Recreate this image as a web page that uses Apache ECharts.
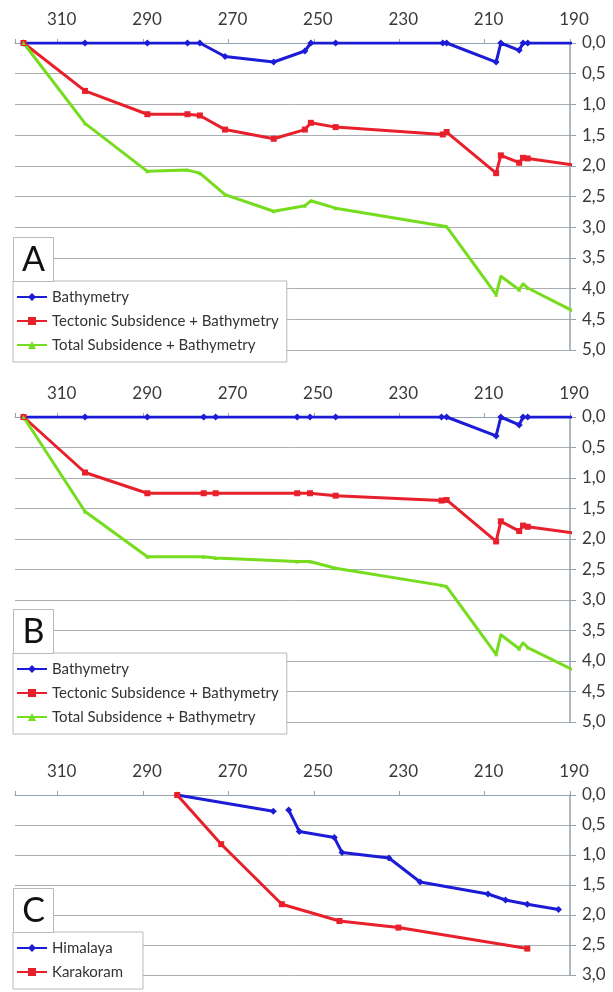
<!DOCTYPE html>
<html>
<head>
<meta charset="utf-8">
<script src="https://cdn.jsdelivr.net/npm/echarts@6/dist/echarts.min.js"></script>
<style>
html,body{margin:0;padding:0;background:#fff;}
#chart{width:613px;height:992px;}
</style>
</head>
<body>
<div id="chart"></div>
<script>
// ---------- DATA ----------
const xTicks = [190, 210, 230, 250, 270, 290, 310];

// Panel A
const agesA = [318, 303.6, 289, 279.6, 276.7, 270.8, 259.4, 252.1, 250.7, 244.9, 219.8, 218.9, 207.3, 206.2, 201.9, 201.0, 199.9, 188];
const bathyA = [0, 0, 0, 0, 0, 0.22, 0.31, 0.13, 0, 0, 0, 0, 0.31, 0, 0.12, 0, 0, 0];
const tectA  = [0, 0.78, 1.16, 1.16, 1.18, 1.41, 1.56, 1.41, 1.30, 1.37, 1.49, 1.45, 2.12, 1.83, 1.95, 1.87, 1.88, 2.00];
const totalA = [0, 1.31, 2.09, 2.07, 2.12, 2.47, 2.74, 2.65, 2.57, 2.69, 2.98, 2.99, 4.10, 3.80, 4.02, 3.92, 3.99, 4.41];

// Panel B
const agesB = [318, 303.6, 289, 275.8, 273, 253.9, 250.9, 244.9, 220.1, 218.9, 207.3, 206.2, 201.9, 201.0, 199.9, 188];
const bathyB = [0, 0, 0, 0, 0, 0, 0, 0, 0, 0, 0.31, 0, 0.13, 0, 0, 0];
const tectB  = [0, 0.91, 1.25, 1.25, 1.25, 1.25, 1.25, 1.29, 1.37, 1.36, 2.04, 1.71, 1.87, 1.78, 1.80, 1.91];
const totalB = [0, 1.55, 2.29, 2.29, 2.31, 2.37, 2.37, 2.48, 2.76, 2.78, 3.89, 3.57, 3.80, 3.70, 3.78, 4.19];

// Panel C
const agesHim = [282, 259.5, 257.7, 255.9, 253.4, 245.2, 243.4, 232.4, 225.1, 209.2, 205.1, 200.0, 192.7];
const himalaya = [0, 0.27, null, 0.25, 0.61, 0.71, 0.96, 1.05, 1.45, 1.65, 1.75, 1.82, 1.91];
const agesKar = [282, 271.7, 257.5, 244.0, 230.2, 200.0];
const karakoram = [0, 0.82, 1.82, 2.10, 2.21, 2.56];

const namesAB = ['Bathymetry', 'Tectonic Subsidence + Bathymetry', 'Total Subsidence + Bathymetry'];
const namesC = ['Himalaya', 'Karakoram'];

// ---------- STYLE ----------
const BLUE = '#1c1cd6', RED = '#e8202c', GREEN = '#76dc1e';
const AXIS = '#93a2ae', GRID = '#a9aeb3', TXT = '#3a3a3a';
const FONT = 'Lato';

// last point of A/B series lies just beyond the axis frame: drawn without a marker
function pairs(xs, ys, openEnd) {
  return xs.map((x, i) => {
    const v = [x, ys[i] === null ? '-' : ys[i]];
    if (openEnd && i === xs.length - 1) return {value: v, symbol: 'none'};
    return v;
  });
}

const panels = [
  {top: 43, height: 307, ymax: 5},
  {top: 417, height: 305, ymax: 5},
  {top: 795, height: 180, ymax: 3}
];

const grid = panels.map(p => ({left: 15, width: 555, top: p.top, height: p.height}));
const xAxis = panels.map((p, i) => ({
  type: 'value', gridIndex: i, position: 'top', inverse: true,
  min: 190, max: 320, interval: 20,
  axisLine: {show: true, onZero: false, lineStyle: {color: AXIS, width: 1}},
  axisTick: {show: true, length: 4, lineStyle: {color: AXIS}},
  axisLabel: {
    show: true, margin: 15, fontSize: 17, color: TXT, fontFamily: FONT,
    padding: [0, 0, 0, 8],
    formatter: v => (xTicks.indexOf(v) >= 0 ? String(v) : '')
  },
  splitLine: {show: false}
}));
const yAxis = panels.map((p, i) => ({
  type: 'value', gridIndex: i, position: 'right', inverse: true,
  min: 0, max: p.ymax, interval: 0.5,
  axisLine: {show: true, lineStyle: {color: AXIS, width: 1.5}},
  axisTick: {show: true, length: 6, lineStyle: {color: AXIS}},
  axisLabel: {
    show: true, margin: 12, fontSize: 17, color: TXT, fontFamily: FONT,
    formatter: v => v.toFixed(1).replace('.', ',')
  },
  splitLine: {show: true, lineStyle: {color: GRID, width: 1}}
}));

function mk(name, color, symbol, size, data, idx, clip) {
  return {
    type: 'line', name: name, xAxisIndex: idx, yAxisIndex: idx,
    data: data, clip: clip, connectNulls: false,
    symbol: symbol, symbolSize: size, showSymbol: true,
    lineStyle: {color: color, width: 3},
    itemStyle: {color: color},
    emphasis: {disabled: true}, animation: false
  };
}

const series = [
  mk(namesAB[0], BLUE, 'diamond', 7, pairs(agesA, bathyA, true), 0, true),
  mk(namesAB[1], RED, 'rect', 6, pairs(agesA, tectA, true), 0, false),
  mk(namesAB[2], GREEN, 'triangle', 4, pairs(agesA, totalA, true), 0, false),
  mk(namesAB[0], BLUE, 'diamond', 7, pairs(agesB, bathyB, true), 1, true),
  mk(namesAB[1], RED, 'rect', 6, pairs(agesB, tectB, true), 1, false),
  mk(namesAB[2], GREEN, 'triangle', 4, pairs(agesB, totalB, true), 1, false),
  mk(namesC[0], BLUE, 'diamond', 7, pairs(agesHim, himalaya, false), 2, false),
  mk(namesC[1], RED, 'rect', 6, pairs(agesKar, karakoram, false), 2, false)
];

function legend(data, top, padRight) {
  return {
    data: data, orient: 'vertical', left: 13, top: top,
    backgroundColor: '#fff', borderColor: '#b9b9b9', borderWidth: 1,
    padding: [8, padRight, 9, 3], itemGap: 8, itemWidth: 30, itemHeight: 10,
    textStyle: {fontSize: 15, color: '#333', fontFamily: FONT, lineHeight: 16},
    selectedMode: false
  };
}

function letterBox(letter, top) {
  return {
    type: 'group', left: 13, top: top, z: 100,
    children: [
      {type: 'rect', shape: {x: 0, y: 0, width: 40, height: 44}, style: {fill: '#fff', stroke: '#b9b9b9', lineWidth: 1}, z: 100},
      {type: 'text', x: 20, y: 23, z: 101, style: {text: letter, fontSize: 34, fontFamily: FONT, fill: '#111', align: 'center', verticalAlign: 'middle'}}
    ]
  };
}

const chart = echarts.init(document.getElementById('chart'), null, {renderer: 'canvas'});
chart.setOption({
  animation: false,
  backgroundColor: '#fff',
  grid: grid, xAxis: xAxis, yAxis: yAxis, series: series,
  legend: [legend(namesAB, 281, 8), legend(namesAB, 653, 8), legend(namesC, 932, 20)],
  graphic: [letterBox('A', 237), letterBox('B', 609), letterBox('C', 888)]
});
</script>
</body>
</html>
